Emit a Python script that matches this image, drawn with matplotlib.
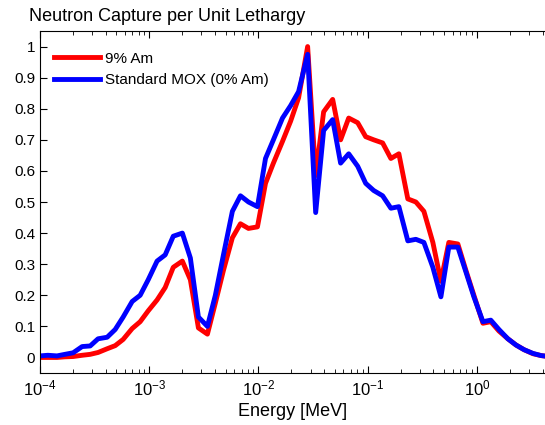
import matplotlib
matplotlib.use("Agg")
import matplotlib.pyplot as plt
import numpy as np

plt.rcParams['font.family'] = ['Liberation Sans', 'DejaVu Sans']
plt.rcParams['mathtext.fontset'] = 'custom'
plt.rcParams['mathtext.rm'] = 'Liberation Sans'
plt.rcParams['mathtext.it'] = 'Liberation Sans:italic'

# energy group midpoints [MeV]
energy = [1.00e-4, 1.18e-4, 1.43e-4, 1.69e-4, 2.01e-4, 2.43e-4, 2.88e-4, 3.40e-4,
          4.12e-4, 4.88e-4, 5.77e-4, 6.98e-4, 8.26e-4, 9.79e-4, 1.18e-3, 1.40e-3,
          1.66e-3, 2.01e-3, 2.38e-3, 2.82e-3, 3.41e-3, 4.03e-3, 4.78e-3, 5.77e-3,
          6.84e-3, 8.10e-3, 9.79e-3, 1.16e-2, 1.37e-2, 1.66e-2, 1.97e-2, 2.33e-2,
          2.82e-2, 3.34e-2, 3.95e-2, 4.78e-2, 5.65e-2, 6.70e-2, 8.10e-2, 9.59e-2,
          0.1135, 0.137, 0.163, 0.193, 0.233, 0.276, 0.327, 0.395,
          0.468, 0.553, 0.669, 0.793, 0.938, 1.135, 1.34, 1.59,
          1.92, 2.28, 2.70, 3.26, 3.87, 4.30]

am9 = [0.000, 0.000, 0.000, 0.002, 0.003, 0.007, 0.010, 0.016,
       0.028, 0.038, 0.058, 0.093, 0.115, 0.150, 0.185, 0.225,
       0.290, 0.310, 0.250, 0.095, 0.075, 0.175, 0.280, 0.385,
       0.430, 0.415, 0.420, 0.560, 0.625, 0.695, 0.760, 0.835,
       1.000, 0.585, 0.790, 0.830, 0.700, 0.770, 0.755, 0.710,
       0.700, 0.690, 0.640, 0.655, 0.510, 0.500, 0.470, 0.370,
       0.245, 0.370, 0.365, 0.280, 0.200, 0.110, 0.115, 0.085,
       0.060, 0.040, 0.025, 0.012, 0.006, 0.004]

mox = [0.005, 0.007, 0.005, 0.010, 0.015, 0.035, 0.037, 0.060,
       0.065, 0.090, 0.130, 0.180, 0.200, 0.250, 0.310, 0.330,
       0.390, 0.400, 0.320, 0.130, 0.100, 0.200, 0.330, 0.470,
       0.520, 0.500, 0.485, 0.640, 0.700, 0.770, 0.810, 0.855,
       0.975, 0.466, 0.730, 0.765, 0.625, 0.655, 0.615, 0.560,
       0.537, 0.520, 0.480, 0.485, 0.375, 0.380, 0.370, 0.290,
       0.195, 0.355, 0.355, 0.275, 0.195, 0.115, 0.120, 0.090,
       0.060, 0.040, 0.025, 0.013, 0.006, 0.004]

fig = plt.figure(figsize=(5.45, 4.25), dpi=100)
ax = fig.add_axes([40/545, 1 - 373/425, 505/545, 342/425])

ax.plot(energy, am9, color='red', lw=3.5, label='9% Am')
ax.plot(energy, mox, color='blue', lw=3.5, label='Standard MOX (0% Am)')

ax.set_xscale('log')
ax.set_xlim(1e-4, 4.2)
ax.set_ylim(-0.05, 1.05)
ax.set_yticks(np.arange(0, 1.01, 0.1))
ax.set_yticklabels(['0', '0.1', '0.2', '0.3', '0.4', '0.5', '0.6', '0.7', '0.8', '0.9', '1'])
ax.tick_params(which='both', direction='in', top=True, right=False, labelsize=11)
ax.tick_params(axis='x', labelsize=12, pad=4)
ax.tick_params(which='major', length=5)
ax.tick_params(which='minor', length=3)
ax.spines['right'].set_visible(False)
ax.set_xlabel('Energy [MeV]', fontsize=13, labelpad=3)

ax.legend(loc='upper left', bbox_to_anchor=(0.028, 0.94), frameon=False,
          fontsize=11, handlelength=3.0, handletextpad=0.35, labelspacing=0.5,
          borderpad=0, borderaxespad=0)

fig.text(29/545, 1 - 21/425, 'Neutron Capture per Unit Lethargy', fontsize=13,
         ha='left', va='baseline')

fig.savefig('out.png', dpi=100)
